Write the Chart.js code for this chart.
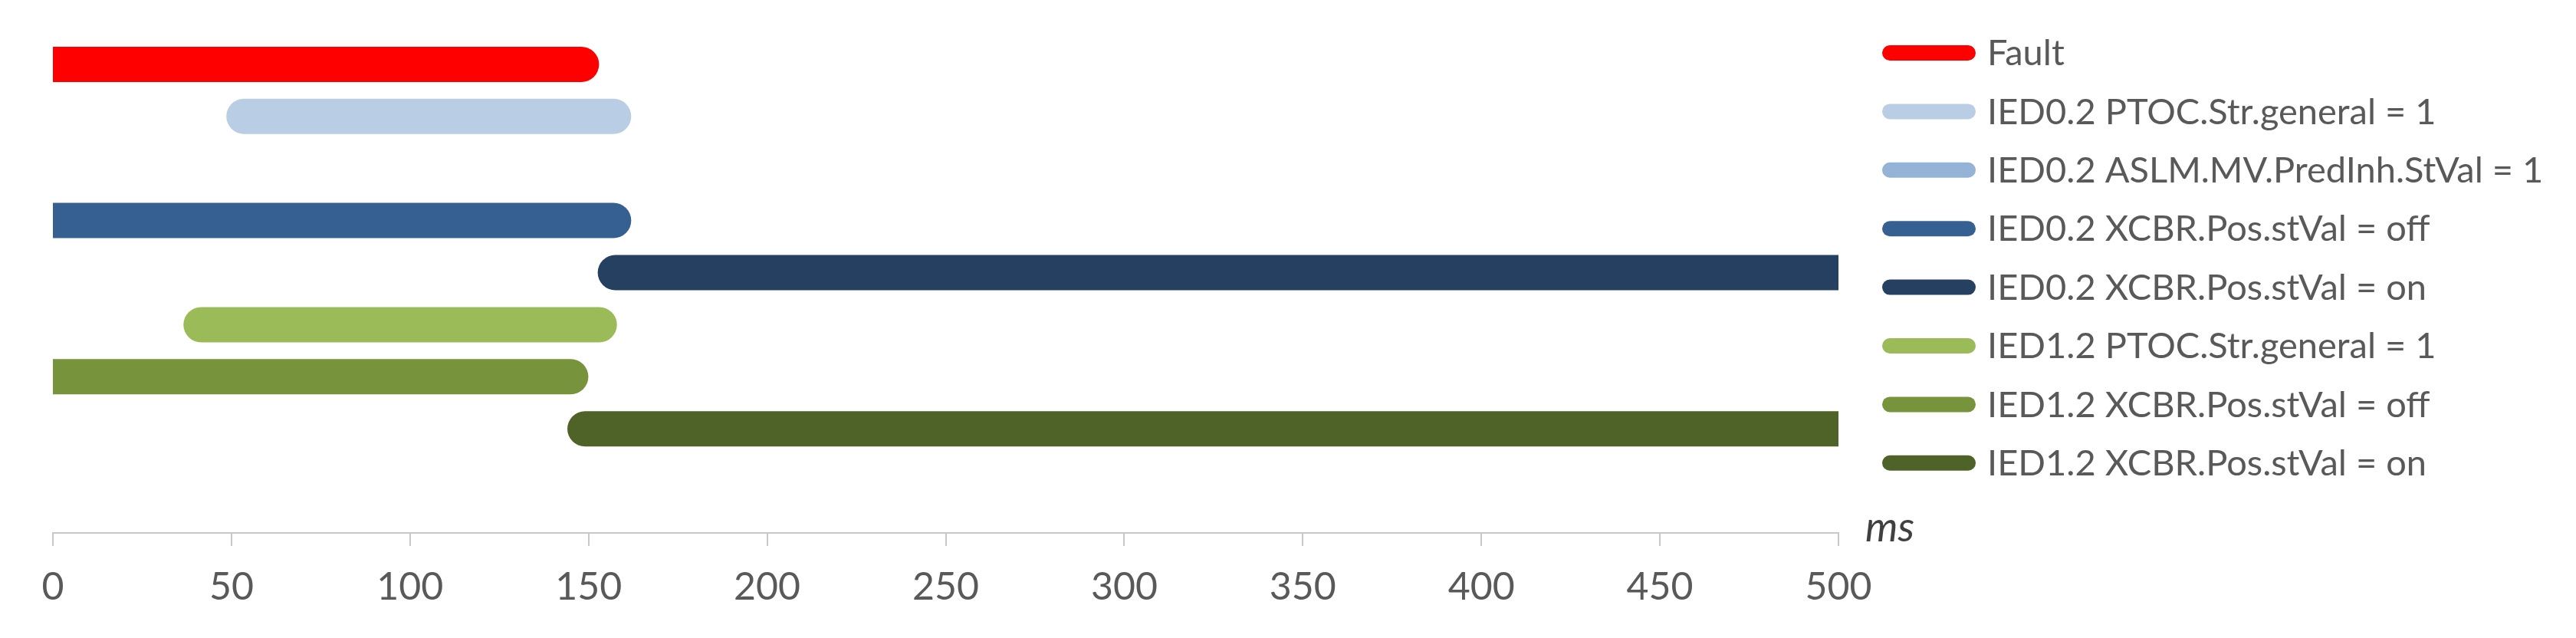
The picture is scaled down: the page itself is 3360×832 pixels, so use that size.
<!DOCTYPE html>
<html>
<head>
<meta charset="utf-8">
<script src="https://cdn.jsdelivr.net/npm/chart.js@4.4.1/dist/chart.umd.min.js"></script>
<style>
  html, body { margin: 0; padding: 0; background: #ffffff; }
  #wrap { width: 3360px; height: 832px; position: relative; }
</style>
</head>
<body>
<div id="wrap"><canvas id="c" width="3360" height="832"></canvas></div>
<script>
// ---- data ----
const seriesNames = [
  'Fault',
  'IED0.2 PTOC.Str.general = 1',
  'IED0.2 ASLM.MV.PredInh.StVal = 1',
  'IED0.2 XCBR.Pos.stVal = off',
  'IED0.2 XCBR.Pos.stVal = on',
  'IED1.2 PTOC.Str.general = 1',
  'IED1.2 XCBR.Pos.stVal = off',
  'IED1.2 XCBR.Pos.stVal = on'
];
const startMs = [0, 53.5, null, 0, 157.5, 41.5, 0, 149];
const endMs   = [148, 157, null, 157, 500, 153, 145, 500];
const lanes   = [9, 8, 7, 6, 5, 4, 3, 2];
const xTicks  = [0, 50, 100, 150, 200, 250, 300, 350, 400, 450, 500];
const seriesColors = ['#FF0000', '#B9CDE5', '#95B3D7', '#366092', '#254061', '#9BBB59', '#77933C', '#4F6228'];
const axisUnit = 'ms';

// ---- build datasets ----
const datasets = seriesNames.map((name, i) => ({
  label: name,
  data: (startMs[i] === null) ? [] : [{x: startMs[i], y: lanes[i]}, {x: endMs[i], y: lanes[i]}],
  borderColor: seriesColors[i],
  backgroundColor: seriesColors[i],
  borderWidth: 46,
  borderCapStyle: 'round',
  showLine: true,
  pointRadius: 0,
  pointHoverRadius: 0,
  clip: 0
}));

const FONT = 'Lato, "Open Sans", sans-serif';

const extrasPlugin = {
  id: 'extras',
  afterDraw(chart) {
    const ctx = chart.ctx;
    const area = chart.chartArea;
    // unit label at end of axis
    ctx.save();
    ctx.fillStyle = '#404040';
    ctx.font = 'italic 54px ' + FONT;
    ctx.textAlign = 'left';
    ctx.textBaseline = 'middle';
    ctx.fillText(axisUnit, area.right + 35, area.bottom - 6);
    ctx.restore();
    // legend
    const L = area.right + 57;
    const top = area.top + 53;
    const step = 76.4;
    chart.data.datasets.forEach((ds, i) => {
      const y = top + i * step;
      ctx.save();
      ctx.strokeStyle = ds.borderColor;
      ctx.lineWidth = 20;
      ctx.lineCap = 'round';
      ctx.beginPath();
      ctx.moveTo(L + 10, y);
      ctx.lineTo(L + 112, y);
      ctx.stroke();
      ctx.fillStyle = '#595959';
      ctx.font = '47px ' + FONT;
      ctx.textAlign = 'left';
      ctx.textBaseline = 'middle';
      ctx.fillText(ds.label, L + 137, y + 1);
      ctx.restore();
    });
  }
};

new Chart(document.getElementById('c'), {
  type: 'scatter',
  data: { datasets },
  options: {
    responsive: false,
    animation: false,
    events: [],
    layout: { padding: { left: 69, top: 16, right: 962, bottom: 0 } },
    plugins: { legend: { display: false }, tooltip: { enabled: false } },
    scales: {
      x: {
        type: 'linear',
        min: 0,
        max: 500,
        afterBuildTicks(scale) { scale.ticks = xTicks.map(v => ({value: v})); },
        afterFit(scale) { scale.height = 137; },
        grid: { display: true, drawOnChartArea: false, drawTicks: true, tickLength: 17, color: '#C8C8C8', lineWidth: 2 },
        border: { display: true, color: '#C8C8C8', width: 2 },
        ticks: { color: '#595959', font: { family: FONT, size: 50 }, padding: 24, maxRotation: 0, autoSkip: false }
      },
      y: {
        type: 'linear',
        display: false,
        min: 0,
        max: 10
      }
    }
  },
  plugins: [extrasPlugin]
});
</script>
</body>
</html>
